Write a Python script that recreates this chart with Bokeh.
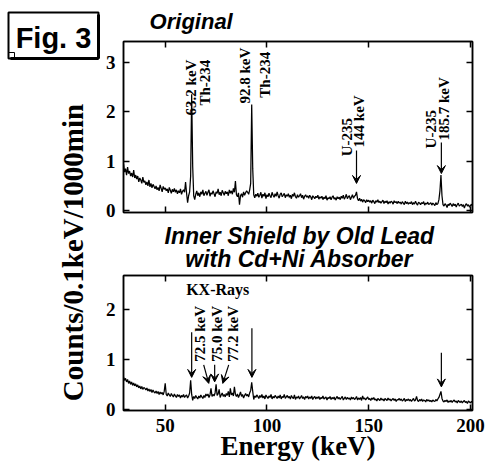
import numpy as np
from math import pi
from bokeh.plotting import figure
from bokeh.layouts import row, column
from bokeh.models import Range1d, LinearAxis, Label, Arrow, VeeHead, FixedTicker
from bokeh.embed import file_html
from bokeh.resources import INLINE

# ---------------- data ----------------
E_START = 29.5      # keV, first channel shown
E_STEP = 0.5        # keV per plotted point

counts_original = [
    0.95, 0.78, 0.85, 0.72, 0.88, 0.75, 0.80, 0.70, 0.76, 0.68, 0.82, 0.66,
    0.72, 0.64, 0.70, 0.58, 0.66, 0.62, 0.55, 0.68, 0.57, 0.60,
    0.52, 0.58, 0.50, 0.62, 0.48, 0.55, 0.46, 0.53, 0.49, 0.44,
    0.50, 0.42, 0.47, 0.40, 0.52, 0.45, 0.38, 0.49, 0.43, 0.46,
    0.40, 0.44, 0.36, 0.47, 0.41, 0.35, 0.43, 0.38, 0.45, 0.37,
    0.42, 0.34, 0.40, 0.36, 0.44, 0.33, 0.39, 0.42, 0.37, 0.58,
    0.35, 0.16, 0.30, 0.38, 0.70, 2.36, 0.90, 0.30, 0.22, 0.33,
    0.40, 0.30, 0.36, 0.28, 0.38, 0.33, 0.42, 0.30, 0.35, 0.39,
    0.31, 0.37, 0.42, 0.29, 0.36, 0.33, 0.40, 0.34, 0.28, 0.38,
    0.35, 0.44, 0.32, 0.37, 0.30, 0.41, 0.36, 0.31, 0.39, 0.34,
    0.38, 0.30, 0.42, 0.35, 0.40, 0.33, 0.45, 0.37, 0.60, 0.32,
    0.28, 0.36, 0.12, 0.30, 0.34, 0.27, 0.38, 0.31, 0.36, 0.40,
    0.37, 0.33, 0.42, 0.55, 2.15, 0.85, 0.32, 0.26, 0.33, 0.29,
    0.35, 0.27, 0.31, 0.37, 0.25, 0.33, 0.29, 0.36, 0.24, 0.32,
    0.28, 0.35, 0.30, 0.26, 0.37, 0.31, 0.27, 0.34, 0.29, 0.38,
    0.30, 0.25, 0.33, 0.36, 0.28, 0.31, 0.35, 0.26, 0.32, 0.29,
    0.34, 0.27, 0.31, 0.24, 0.33, 0.29, 0.36, 0.28, 0.25, 0.32,
    0.27, 0.30, 0.34, 0.26, 0.31, 0.23, 0.29, 0.32, 0.27, 0.30,
    0.25, 0.31, 0.28, 0.22, 0.30, 0.27, 0.24, 0.29, 0.26, 0.31,
    0.23, 0.28, 0.25, 0.29, 0.22, 0.27, 0.24, 0.30, 0.21, 0.26,
    0.24, 0.28, 0.22, 0.27, 0.30, 0.23, 0.26, 0.21, 0.28, 0.24,
    0.27, 0.22, 0.29, 0.25, 0.31, 0.23, 0.27, 0.33, 0.24, 0.28,
    0.30, 0.22, 0.27, 0.32, 0.25, 0.29, 0.31, 0.38, 0.24, 0.20,
    0.25, 0.19, 0.23, 0.17, 0.22, 0.20, 0.16, 0.22, 0.18, 0.21,
    0.17, 0.20, 0.15, 0.21, 0.18, 0.14, 0.20, 0.17, 0.22, 0.16,
    0.19, 0.15, 0.18, 0.21, 0.14, 0.19, 0.16, 0.20, 0.13, 0.18,
    0.15, 0.19, 0.17, 0.13, 0.20, 0.16, 0.18, 0.14, 0.19, 0.15,
    0.17, 0.13, 0.18, 0.15, 0.12, 0.19, 0.14, 0.17, 0.13, 0.16,
    0.14, 0.18, 0.12, 0.16, 0.13, 0.19, 0.14, 0.11, 0.17, 0.15,
    0.12, 0.16, 0.14, 0.18, 0.11, 0.15, 0.13, 0.17, 0.12, 0.14,
    0.16, 0.11, 0.15, 0.13, 0.10, 0.16, 0.12, 0.14, 0.22, 0.40,
    0.72, 0.30, 0.12, 0.09, 0.14, 0.11, 0.06, 0.13, 0.10, 0.15,
    0.12, 0.08, 0.14, 0.10, 0.13, 0.07, 0.12, 0.15, 0.09, 0.11,
    0.13, 0.08, 0.12, 0.05, 0.11, 0.14, 0.09, 0.12, 0.07, 0.10,
    0.13, 0.08,
]

counts_shield = [
    0.65, 0.58, 0.62, 0.55, 0.60, 0.52, 0.57, 0.50, 0.55, 0.48, 0.53, 0.47,
    0.51, 0.45, 0.49, 0.43, 0.47, 0.41, 0.46, 0.40, 0.44, 0.42,
    0.39, 0.43, 0.37, 0.41, 0.36, 0.40, 0.34, 0.39, 0.35, 0.33,
    0.37, 0.32, 0.36, 0.30, 0.35, 0.31, 0.34, 0.29, 0.36, 0.52,
    0.30, 0.27, 0.33, 0.29, 0.26, 0.32, 0.28, 0.25, 0.31, 0.27,
    0.24, 0.30, 0.26, 0.29, 0.23, 0.28, 0.25, 0.30, 0.24, 0.27,
    0.29, 0.23, 0.27, 0.33, 0.58, 0.30, 0.18, 0.26, 0.22, 0.28,
    0.24, 0.21, 0.27, 0.23, 0.29, 0.25, 0.22, 0.28, 0.24, 0.31,
    0.27, 0.31, 0.24, 0.29, 0.42, 0.26, 0.30, 0.27, 0.33, 0.50,
    0.28, 0.31, 0.40, 0.24, 0.29, 0.33, 0.26, 0.30, 0.25, 0.32,
    0.28, 0.36, 0.25, 0.42, 0.29, 0.33, 0.27, 0.45, 0.30, 0.26,
    0.31, 0.24, 0.29, 0.35, 0.26, 0.30, 0.23, 0.28, 0.32, 0.27,
    0.30, 0.25, 0.33, 0.38, 0.54, 0.36, 0.20, 0.27, 0.24, 0.29,
    0.26, 0.22, 0.28, 0.24, 0.30, 0.23, 0.27, 0.21, 0.29, 0.25,
    0.22, 0.27, 0.24, 0.30, 0.21, 0.26, 0.23, 0.28, 0.25, 0.22,
    0.27, 0.23, 0.29, 0.21, 0.26, 0.24, 0.30, 0.22, 0.25, 0.28,
    0.23, 0.26, 0.21, 0.28, 0.24, 0.22, 0.29, 0.20, 0.25, 0.23,
    0.27, 0.21, 0.24, 0.28, 0.22, 0.25, 0.20, 0.26, 0.23, 0.27,
    0.21, 0.25, 0.22, 0.27, 0.20, 0.24, 0.26, 0.21, 0.25, 0.22,
    0.26, 0.20, 0.24, 0.22, 0.27, 0.21, 0.23, 0.25, 0.19, 0.24,
    0.22, 0.26, 0.20, 0.24, 0.21, 0.25, 0.19, 0.23, 0.26, 0.21,
    0.24, 0.20, 0.23, 0.26, 0.19, 0.22, 0.25, 0.20, 0.24, 0.21,
    0.23, 0.19, 0.25, 0.21, 0.24, 0.20, 0.22, 0.26, 0.19, 0.23,
    0.20, 0.24, 0.18, 0.27, 0.21, 0.23, 0.19, 0.22, 0.25, 0.20,
    0.22, 0.18, 0.23, 0.20, 0.24, 0.19, 0.21, 0.17, 0.22, 0.20,
    0.18, 0.23, 0.19, 0.21, 0.17, 0.22, 0.20, 0.18, 0.23, 0.19,
    0.21, 0.17, 0.20, 0.22, 0.18, 0.21, 0.16, 0.20, 0.19, 0.22,
    0.18, 0.21, 0.17, 0.19, 0.22, 0.16, 0.20, 0.18, 0.21, 0.17,
    0.20, 0.16, 0.19, 0.22, 0.17, 0.19, 0.26, 0.18, 0.16, 0.20,
    0.17, 0.21, 0.16, 0.19, 0.18, 0.15, 0.20, 0.17, 0.19, 0.16,
    0.18, 0.15, 0.19, 0.17, 0.16, 0.20, 0.17, 0.21, 0.24, 0.30,
    0.36, 0.22, 0.17, 0.15, 0.18, 0.16, 0.19, 0.14, 0.17, 0.15,
    0.18, 0.14, 0.17, 0.19, 0.15, 0.17, 0.13, 0.18, 0.16, 0.14,
    0.17, 0.13, 0.16, 0.18, 0.14, 0.16, 0.12, 0.17, 0.15, 0.13,
    0.16, 0.14,
]

x_ticks = [50, 100, 150, 200]
y_ticks_original = [0, 1, 2, 3]
y_ticks_shield = [0, 1, 2]

# annotation texts: (text, x keV, y counts) -- rotated labels start at (x, y)
labels_original = [
    ("63.2 keV", 62.5, 1.93), ("Th-234", 69.4, 2.13),
    ("92.8 keV", 89.4, 2.17), ("Th-234", 99.0, 2.29),
    ("U-235", 139.4, 1.10), ("144 keV", 145.0, 1.28),
    ("U-235", 180.7, 1.26), ("185.7 keV", 186.9, 1.42),
]
arrows_original = [(144.0, 1.22, 144.0, 0.55), (185.7, 1.38, 185.7, 0.75)]

labels_shield = [("72.5 keV", 67.2, 0.95), ("75.0 keV", 75.6, 0.95), ("77.2 keV", 83.4, 0.95)]
arrows_shield = [
    (63.0, 1.54, 63.0, 0.64),
    (68.9, 0.89, 71.4, 0.52), (74.3, 0.89, 74.3, 0.55), (81.2, 0.89, 78.3, 0.52),
    (92.6, 1.62, 92.6, 0.64), (185.7, 1.13, 185.7, 0.45),
]

SERIF = "Liberation Serif"
SANS = "Liberation Sans"
X_RANGE = (29.5, 201.0)
PANEL_W = 392


def style_axis(ax, ticks, show_labels):
    ax.ticker = FixedTicker(ticks=ticks)
    ax.major_tick_in = 6
    ax.major_tick_out = 0
    ax.minor_tick_line_color = None
    ax.axis_line_width = 1.5
    ax.major_tick_line_width = 1.5
    ax.axis_line_color = "black"
    ax.major_tick_line_color = "black"
    if show_labels:
        ax.major_label_text_font = SERIF
        ax.major_label_text_font_style = "bold"
        ax.major_label_text_font_size = "19px"
        ax.major_label_text_color = "black"
        ax.major_label_standoff = 8
    else:
        ax.major_label_text_font_size = "0px"
        ax.major_label_text_color = None
        ax.major_label_standoff = 0


def make_panel(counts, y_range, y_ticks, height, top_border, bottom_border, x_labels):
    p = figure(width=PANEL_W, height=height, x_range=Range1d(*X_RANGE), y_range=Range1d(*y_range),
               output_backend="svg", toolbar_location=None,
               min_border_left=23, min_border_right=20,
               min_border_top=top_border, min_border_bottom=bottom_border)
    p.grid.visible = False
    p.outline_line_color = "black"
    p.outline_line_width = 1.5
    p.background_fill_color = "white"
    p.border_fill_color = "white"
    bottom_ax = p.below[0]
    style_axis(bottom_ax, x_ticks, x_labels)
    style_axis(p.left[0], y_ticks, True)
    top_ax = LinearAxis()
    style_axis(top_ax, x_ticks, False)
    p.add_layout(top_ax, "above")
    right_ax = LinearAxis()
    style_axis(right_ax, y_ticks, False)
    p.add_layout(right_ax, "right")
    energy = E_START + E_STEP * np.arange(len(counts))
    p.line(energy, counts, line_color="black", line_width=1.25)
    return p, bottom_ax


def strip(width, height):
    s = figure(width=width, height=height, x_range=Range1d(0, width), y_range=Range1d(height, 0),
               output_backend="svg", toolbar_location=None, min_border=0)
    s.axis.visible = False
    s.grid.visible = False
    s.outline_line_color = None
    s.background_fill_color = "white"
    s.border_fill_color = "white"
    return s


def text_label(x, y, text, font, style, size, angle=0.0, align="center"):
    return Label(x=x, y=y, text=text, angle=angle, text_align=align, text_baseline="middle",
                 text_font=font, text_font_style=style, text_font_size=size, text_color="black")


def add_vlabels(p, labels):
    for text, x, y in labels:
        p.add_layout(text_label(x, y, text, SERIF, "bold", "15px", angle=pi / 2, align="left"))


def add_arrows(p, arrows):
    for x0, y0, x1, y1 in arrows:
        p.add_layout(Arrow(end=VeeHead(size=8, fill_color="black", line_color="black", line_width=1),
                           x_start=x0, y_start=y0, x_end=x1, y_end=y1,
                           line_color="black", line_width=1.2))


# ---------------- top panel ----------------
top_strip = strip(PANEL_W, 39)
top_strip.add_layout(text_label(76, 21, "Original", SANS, "bold italic", "22px"))

p1, _ = make_panel(counts_original, (-0.04, 3.43), y_ticks_original, 181, 2, 8, False)
add_vlabels(p1, labels_original)
add_arrows(p1, arrows_original)

# ---------------- bottom panel ----------------
mid_strip = strip(PANEL_W, 53)
mid_strip.add_layout(text_label(197.5, 15, "Inner Shield by Old Lead", SANS, "bold italic", "23px"))
mid_strip.add_layout(text_label(197.5, 38, "with Cd+Ni Absorber", SANS, "bold italic", "23px"))

p2, xax2 = make_panel(counts_shield, (-0.02, 2.67), y_ticks_shield, 193, 2, 56, True)
xax2.major_label_standoff = 8
xax2.axis_label = "Energy (keV)"
xax2.axis_label_standoff = -4
xax2.axis_label_text_font = SERIF
xax2.axis_label_text_font_style = "bold"
xax2.axis_label_text_font_size = "27px"
xax2.axis_label_text_color = "black"
add_vlabels(p2, labels_shield)
add_arrows(p2, arrows_shield)
p2.add_layout(text_label(75.8, 2.39, "KX-Rays", SERIF, "bold", "16px"))

# ---------------- left strip: y-axis title and figure tag ----------------
lf = strip(100, 466)
lf.quad(left=[8], right=[98], top=[12], bottom=[58], fill_color="white",
        line_color="black", line_width=2)
lf.segment(x0=[98, 10], y0=[14, 58], x1=[98, 98], y1=[58, 58], line_color="black", line_width=3)
lf.line(x=[8, 14, 14], y=[52, 52, 58], line_color="black", line_width=1)
lf.add_layout(text_label(53, 37, "Fig. 3", SANS, "bold", "29px"))
lf.add_layout(text_label(72, 252, "Counts/0.1keV/1000min", SERIF, "bold", "29px", angle=pi / 2))

layout = row(lf, column(top_strip, p1, mid_strip, p2))
open("out.html", "w").write(file_html(layout, INLINE))
